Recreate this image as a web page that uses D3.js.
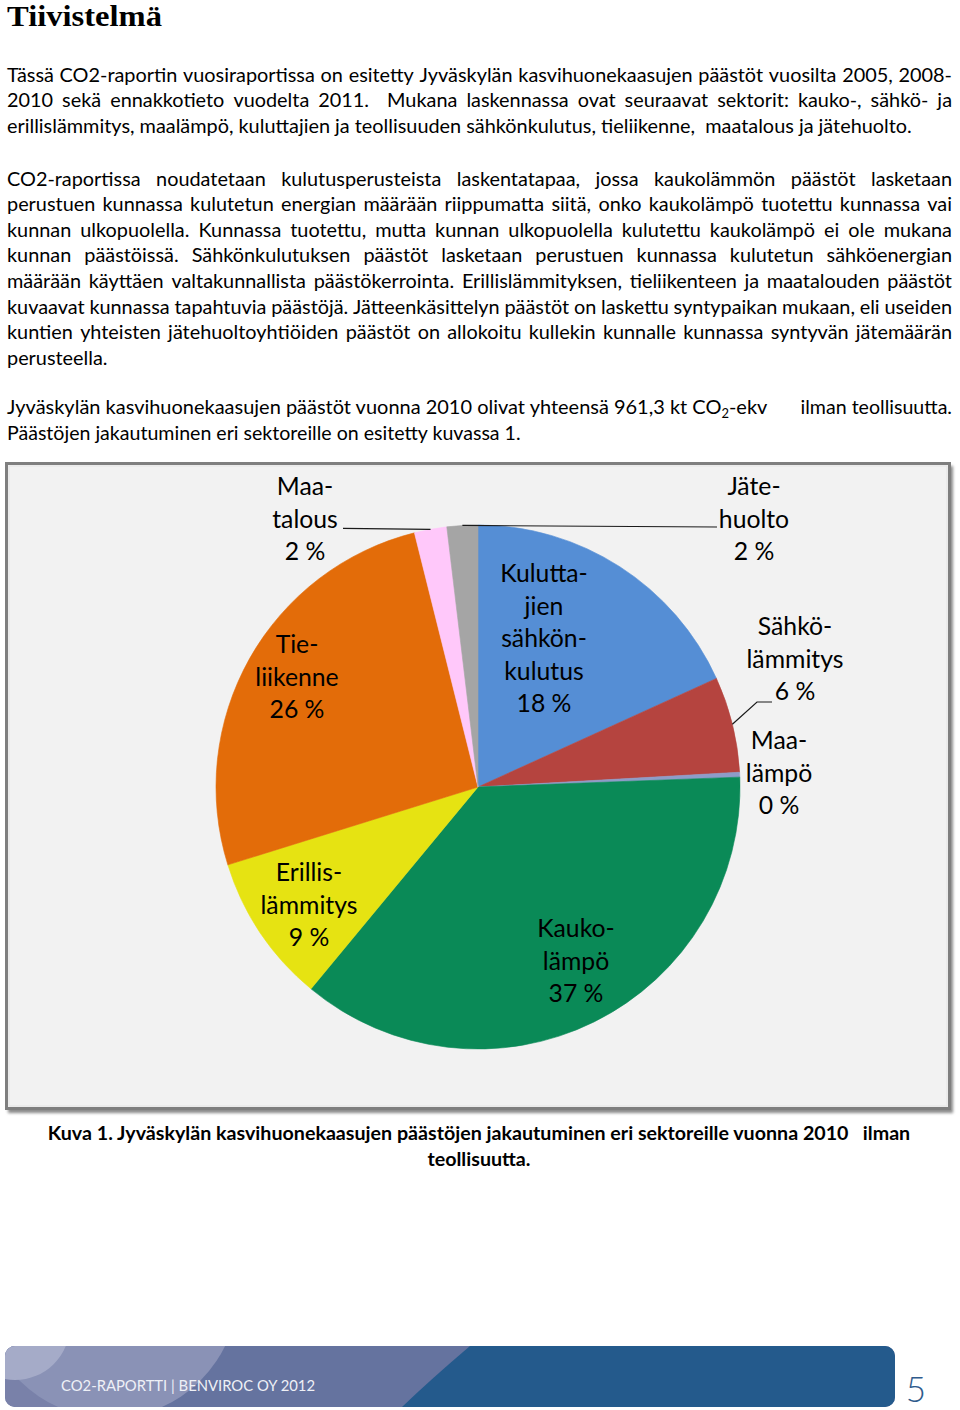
<!DOCTYPE html>
<html><head><meta charset="utf-8">
<script src="https://cdn.jsdelivr.net/npm/d3@7/dist/d3.min.js"></script>
<style>body{margin:0;background:#fff}svg{display:block}</style>
</head><body>
<svg id="page" width="960" height="1410"></svg>
<script>
// ---------- data ----------
const categories = ["Kuluttajien sähkönkulutus","Sähkölämmitys","Maalämpö","Kaukolämpö","Erillislämmitys","Tieliikenne","Maatalous","Jätehuolto"];
const labelLines = [["Kulutta-","jien","sähkön-","kulutus"],["Sähkö-","lämmitys"],["Maa-","lämpö"],["Kauko-","lämpö"],["Erillis-","lämmitys"],["Tie-","liikenne"],["Maa-","talous"],["Jäte-","huolto"]];
const shares = [18.2, 5.9, 0.3, 36.6, 9.2, 25.9, 2.0, 1.9];
const sliceColors = ["#558ED5","#B5443F","#8E9CC8","#0A8A57","#E6E312","#E36C09","#FFC8FA","#A5A5A5"];

const titleText = "Tiivistelmä";
const para1 = [
  "Tässä CO2-raportin vuosiraportissa on esitetty Jyväskylän kasvihuonekaasujen päästöt vuosilta 2005, 2008-",
  "2010 sekä ennakkotieto vuodelta 2011.  Mukana laskennassa ovat seuraavat sektorit: kauko-, sähkö- ja",
  "erillislämmitys, maalämpö, kuluttajien ja teollisuuden sähkönkulutus, tieliikenne,  maatalous ja jätehuolto."
];
const para2 = [
  "CO2-raportissa noudatetaan kulutusperusteista laskentatapaa, jossa kaukolämmön päästöt lasketaan",
  "perustuen kunnassa kulutetun energian määrään riippumatta siitä, onko kaukolämpö tuotettu kunnassa vai",
  "kunnan ulkopuolella. Kunnassa tuotettu, mutta kunnan ulkopuolella kulutettu kaukolämpö ei ole mukana",
  "kunnan päästöissä. Sähkönkulutuksen päästöt lasketaan perustuen kunnassa kulutetun sähköenergian",
  "määrään käyttäen valtakunnallista päästökerrointa. Erillislämmityksen, tieliikenteen ja maatalouden päästöt",
  "kuvaavat kunnassa tapahtuvia päästöjä. Jätteenkäsittelyn päästöt on laskettu syntypaikan mukaan, eli useiden",
  "kuntien yhteisten jätehuoltoyhtiöiden päästöt on allokoitu kullekin kunnalle kunnassa syntyvän jätemäärän",
  "perusteella."
];
const para3a = ["Jyväskylän kasvihuonekaasujen päästöt vuonna 2010 olivat yhteensä 961,3 kt CO", "2", "-ekv"];
const para3b = "ilman teollisuutta.";
const para3c = "Päästöjen jakautuminen eri sektoreille on esitetty kuvassa 1.";
const captionLines = ["Kuva 1. Jyväskylän kasvihuonekaasujen päästöjen jakautuminen eri sektoreille vuonna 2010   ilman", "teollisuutta."];
const footerText = "CO2-RAPORTTI | BENVIROC OY 2012";
const pageNumber = "5";

// ---------- helpers ----------
const FAM = "Lato";
const ctx = document.createElement("canvas").getContext("2d");
function tw(str, size, weight = "normal", family = FAM) {
  ctx.font = `${weight} ${size}px "${family}"`;
  return ctx.measureText(str).width;
}
const svg = d3.select("#page");

const bodyFs = 19 * 905 / tw(para1[2], 19);
const LEFT = 7, RIGHT = 952;

function justifiedLine(text, y, fs) {
  const words = text.split(" ");
  const widths = words.map(w => tw(w, fs));
  const gap = (RIGHT - LEFT - d3.sum(widths)) / (words.length - 1);
  const t = svg.append("text").attr("y", y).attr("font-family", FAM).attr("font-size", fs).attr("fill", "#000");
  let x = LEFT;
  words.forEach((w, i) => {
    if (w.length) t.append("tspan").attr("x", x).text(w + (i < words.length - 1 ? " " : ""));
    x += widths[i] + gap;
  });
}
function plainLine(text, y, fs) {
  svg.append("text").attr("x", LEFT).attr("y", y).attr("font-family", FAM).attr("font-size", fs)
    .attr("fill", "#000").style("white-space", "pre").text(text);
}

// ---------- title ----------
svg.append("text").attr("x", 7).attr("y", 26).attr("font-family", "Liberation Serif").attr("font-weight", "bold")
  .attr("font-size", 29).attr("textLength", 155).attr("lengthAdjust", "spacingAndGlyphs").attr("fill", "#000").text(titleText);

// ---------- paragraphs ----------
const p1y = [81.5, 107, 132.5];
para1.forEach((l, i) => i < para1.length - 1 ? justifiedLine(l, p1y[i], bodyFs) : plainLine(l, p1y[i], bodyFs));
para2.forEach((l, i) => {
  const y = 185.5 + 25.6 * i;
  i < para2.length - 1 ? justifiedLine(l, y, bodyFs) : plainLine(l, y, bodyFs);
});

// paragraph 3 (condensed)
const sx3 = 514 / tw(para3c, bodyFs);
const wA = tw(para3a[0], bodyFs) + tw(para3a[1], bodyFs * 0.65) + tw(para3a[2], bodyFs);
const sxA = 762 / wA;
const gA = svg.append("g").attr("transform", `translate(${LEFT},414) scale(${sxA},1)`);
const tA = gA.append("text").attr("font-family", FAM).attr("font-size", bodyFs).attr("fill", "#000");
tA.append("tspan").text(para3a[0]);
tA.append("tspan").attr("font-size", bodyFs * 0.65).attr("dy", 4).text(para3a[1]);
tA.append("tspan").attr("dy", -4).text(para3a[2]);
svg.append("g").attr("transform", `translate(${RIGHT},414) scale(${sx3},1)`)
  .append("text").attr("text-anchor", "end").attr("font-family", FAM).attr("font-size", bodyFs).attr("fill", "#000").text(para3b);
svg.append("g").attr("transform", `translate(${LEFT},440) scale(${sx3},1)`)
  .append("text").attr("font-family", FAM).attr("font-size", bodyFs).attr("fill", "#000").text(para3c);

// ---------- chart box ----------
const defs = svg.append("defs");
const f = defs.append("filter").attr("id", "sh").attr("x", "-5%").attr("y", "-5%").attr("width", "110%").attr("height", "110%");
f.append("feGaussianBlur").attr("stdDeviation", 1.5);
svg.append("rect").attr("x", 8).attr("y", 466).attr("width", 945).attr("height", 647).attr("fill", "#8a8a8a").attr("filter", "url(#sh)");
svg.append("rect").attr("x", 6.5).attr("y", 463.5).attr("width", 943).attr("height", 645)
  .attr("fill", "#F2F2F2").attr("stroke", "#7F7F7F").attr("stroke-width", 3);
svg.append("rect").attr("x", 9).attr("y", 466).attr("width", 938).attr("height", 640)
  .attr("fill", "none").attr("stroke", "#E4E4E4").attr("stroke-width", 1);

// ---------- pie ----------
const cx = 478, cy = 787, R = 262;
const arcs = d3.pie().sort(null).value(d => d)(shares);
const arcGen = d3.arc().innerRadius(0).outerRadius(R);
const gp = svg.append("g").attr("transform", `translate(${cx},${cy})`);
gp.selectAll("path").data(arcs).join("path")
  .attr("d", arcGen).attr("fill", (d, i) => sliceColors[i])
  .attr("stroke", (d, i) => sliceColors[i]).attr("stroke-width", 0.6);

const pct = v => Math.round(v) + " %";
const labelFs = 24 * 97 / tw("lämmitys", 24);
const LH = 32.5;
const labelPos = [[544, 574], [795, 627], [779, 741], [576, 929], [309, 873], [297, 645], [305, 487], [754, 487]];
const gl = svg.append("g").attr("font-family", FAM).attr("font-size", labelFs).attr("fill", "#000").attr("text-anchor", "middle");
labelLines.forEach((lines, i) => {
  const all = lines.concat([pct(shares[i])]);
  const [x, y0] = labelPos[i];
  all.forEach((s, j) => gl.append("text").attr("x", x).attr("y", y0 + j * LH + labelFs * 0.34).text(s));
});

const edgePt = i => { const a = (arcs[i].startAngle + arcs[i].endAngle) / 2; return [cx + R * Math.sin(a), cy - R * Math.cos(a)]; };
const line = d3.line();
const leaders = [
  [[343, edgePt(6)[1] - 1], edgePt(6)],
  [edgePt(7), [717, 527]],
  [edgePt(1), [757, 702], [772, 702]]
];
svg.selectAll("path.leader").data(leaders).join("path").attr("class", "leader")
  .attr("d", line).attr("fill", "none").attr("stroke", "#1a1a1a").attr("stroke-width", 1.2);

// ---------- caption ----------
const capFs = bodyFs;
const sxc = 864 / tw(captionLines[0], capFs, "bold");
captionLines.forEach((l, i) => {
  svg.append("g").attr("transform", `translate(479,${1140 + 26 * i}) scale(${sxc},1)`)
    .append("text").attr("text-anchor", "middle").attr("font-family", FAM).attr("font-weight", "bold")
    .attr("font-size", capFs).attr("fill", "#000").style("white-space", "pre").text(l);
});

// ---------- footer ----------
const cp = defs.append("clipPath").attr("id", "fc");
cp.append("rect").attr("x", 5).attr("y", 1346).attr("width", 890).attr("height", 61).attr("rx", 10);
const gf = svg.append("g").attr("clip-path", "url(#fc)");
gf.append("rect").attr("x", 5).attr("y", 1346).attr("width", 890).attr("height", 61).attr("fill", "#65739F");
gf.append("rect").attr("x", 5).attr("y", 1346).attr("width", 60).attr("height", 61).attr("fill", "#7981A9");
gf.append("circle").attr("cx", 110).attr("cy", 1290).attr("r", 128).attr("fill", "#8A92B6");
gf.append("circle").attr("cx", 15).attr("cy", 1325).attr("r", 55).attr("fill", "#A5ABC8");
gf.append("path").attr("d", "M470,1346 Q430,1380 402,1407 L900,1407 L900,1346 Z").attr("fill", "#245A8C");
svg.append("text").attr("x", 61).attr("y", 1391).attr("font-family", FAM).attr("font-size", 16)
  .attr("textLength", 254).attr("lengthAdjust", "spacingAndGlyphs").attr("fill", "#EEF0F6").text(footerText);
svg.append("text").attr("x", 916).attr("y", 1402).attr("text-anchor", "middle").attr("font-family", FAM)
  .attr("font-weight", 300).attr("font-size", 35).attr("fill", "#2F5B8C").text(pageNumber);
</script>
</body></html>
